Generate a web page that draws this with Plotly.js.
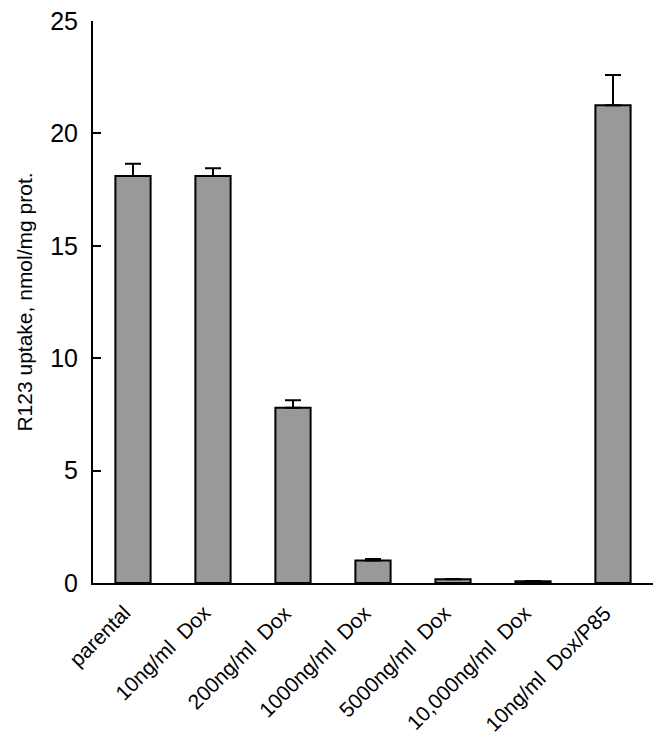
<!DOCTYPE html>
<html>
<head>
<meta charset="utf-8">
<script src="https://cdn.plot.ly/plotly-3.0.1.min.js"></script>
<style>html,body{margin:0;padding:0;background:#fff;}#chart{width:665px;height:741px;}</style>
</head>
<body>
<div id="chart"></div>
<script>
const categories = ["parental", "10ng/ml\u00a0\u00a0Dox", "200ng/ml\u00a0\u00a0Dox", "1000ng/ml\u00a0\u00a0Dox", "5000ng/ml\u00a0\u00a0Dox", "10,000ng/ml\u00a0\u00a0Dox", "10ng/ml\u00a0\u00a0Dox/P85"];
const uptake = [18.1, 18.1, 7.8, 1.0, 0.17, 0.08, 21.25];
const errUp = [0.55, 0.35, 0.33, 0.07, 0.01, 0.01, 1.35];
const yTicks = [0, 5, 10, 15, 20, 25];

const font = "Liberation Sans, Arial, sans-serif";
const trace = {
  type: "bar",
  x: categories,
  y: uptake,
  width: 0.44,
  marker: {color: "#999999", line: {color: "#000", width: 2}},
  error_y: {type: "data", symmetric: false, array: errUp, arrayminus: uptake.map(() => 0), color: "#000", thickness: 2, width: 8},
  hoverinfo: "none"
};
const labelAnnotations = categories.map(c => ({
  x: c, y: 0, xref: "x", yref: "y",
  text: c, showarrow: false, textangle: -45,
  xanchor: "right", yanchor: "top", xshift: 5, yshift: -15,
  font: {size: 21, family: font, color: "#000"}
}));
const layout = {
  width: 665, height: 741,
  margin: {l: 93, r: 12, t: 21, b: 158},
  paper_bgcolor: "#fff", plot_bgcolor: "#fff",
  showlegend: false,
  font: {family: font, color: "#000"},
  xaxis: {
    type: "category", range: [-0.5, 6.5],
    showline: true, linecolor: "#000", linewidth: 2,
    ticks: "", showticklabels: false,
    showgrid: false, zeroline: false
  },
  yaxis: {
    range: [0, 25], tickvals: yTicks,
    showline: true, linecolor: "#000", linewidth: 2,
    ticks: "inside", ticklen: 8, tickwidth: 2, tickcolor: "#000",
    tickfont: {size: 25, family: font}, ticklabelstandoff: 8,
    showgrid: false, zeroline: false,
    title: {text: "R123 uptake, nmol/mg prot.", font: {size: 21, family: font}, standoff: 12}
  },
  annotations: labelAnnotations
};
Plotly.newPlot("chart", [trace], layout, {displayModeBar: false, staticPlot: true});
</script>
</body>
</html>
